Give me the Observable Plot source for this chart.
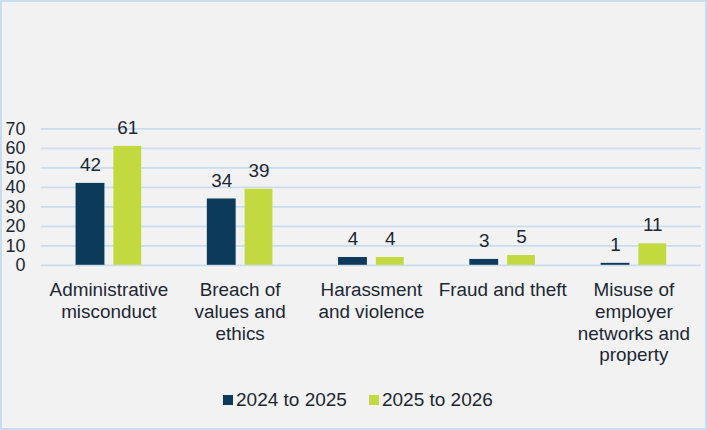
<!DOCTYPE html>
<html>
<head>
<meta charset="utf-8">
<script src="https://cdn.jsdelivr.net/npm/d3@7"></script>
<script src="https://cdn.jsdelivr.net/npm/@observablehq/plot@0.6"></script>
<style>
  body { margin: 0; background: #ffffff; }
  #chart {
    position: relative;
    width: 707px;
    height: 430px;
    box-sizing: border-box;
    background: #f2f2f2;
    border: 2px solid #c9ddee;
    font-family: "Liberation Sans", Arial, sans-serif;
    color: #1d2733;
  }
  #chart svg { position: absolute; left: -2px; top: -2px; }
  #legend {
    position: absolute;
    left: 221px;
    top: 386px;
    display: flex;
    align-items: center;
    font-size: 19px;
    line-height: 24px;
    white-space: nowrap;
  }
  #legend .item { display: flex; align-items: center; margin-right: 22px; }
  #legend .swatch { width: 10px; height: 10px; margin-right: 3px; }
</style>
</head>
<body>
<div id="chart">
  <div id="legend"></div>
</div>
<script>
// Misconduct categories and the counts for each reporting year
const categories = [
  "Administrative misconduct",
  "Breach of values and ethics",
  "Harassment and violence",
  "Fraud and theft",
  "Misuse of employer networks and property"
];
const categoryLabels = [
  "Administrative\nmisconduct",
  "Breach of\nvalues and\nethics",
  "Harassment\nand violence",
  "Fraud and theft",
  "Misuse of\nemployer\nnetworks and\nproperty"
];
const seriesNames = ["2024 to 2025", "2025 to 2026"];
const values2024to2025 = [42, 34, 4, 3, 1];
const values2025to2026 = [61, 39, 4, 5, 11];
const yTicks = [0, 10, 20, 30, 40, 50, 60, 70];

const navy = "#0b3a5b";
const lime = "#c3d940";
const textColor = "#1d2733";

const rowsA = categories.map((c, i) => ({category: c, value: values2024to2025[i]}));
const rowsB = categories.map((c, i) => ({category: c, value: values2025to2026[i]}));
const labelOf = new Map(categories.map((c, i) => [c, categoryLabels[i]]));

const plot = Plot.plot({
  width: 707,
  height: 375,
  marginTop: 129,
  marginBottom: 108.7,
  marginLeft: 41,
  marginRight: 2,
  style: {
    background: "transparent",
    fontFamily: "'Liberation Sans', Arial, sans-serif",
    fontSize: "19px",
    color: textColor,
    overflow: "visible"
  },
  x: {domain: categories, padding: 0, axis: null},
  y: {domain: [0, 70], axis: null},
  marks: [
    Plot.gridY(yTicks, {stroke: "#c9ddee", strokeOpacity: 1, strokeWidth: 1.75}),
    Plot.axisY(yTicks, {tickSize: 0, tickPadding: 16, fontSize: 18, fill: textColor, label: null}),
    Plot.axisX({
      tickSize: 0,
      tickPadding: 16,
      lineHeight: 1.14,
      fontSize: 19,
      fill: textColor,
      label: null,
      tickFormat: (d) => labelOf.get(d)
    }),
    Plot.barY(rowsA, {x: "category", y: "value", fill: navy, insetLeft: 33, insetRight: 70}),
    Plot.barY(rowsB, {x: "category", y: "value", fill: lime, insetLeft: 71, insetRight: 33}),
    Plot.text(rowsA, {x: "category", y: "value", text: (d) => String(d.value), dx: -18.5, dy: -18.5, lineAnchor: "middle", fill: textColor, fontSize: 19}),
    Plot.text(rowsB, {x: "category", y: "value", text: (d) => String(d.value), dx: 19, dy: -18.5, lineAnchor: "middle", fill: textColor, fontSize: 19})
  ]
});

const chart = document.getElementById("chart");
chart.insertBefore(plot, chart.firstChild);

// Legend beneath the plot
const legend = d3.select("#legend");
const colors = [navy, lime];
seriesNames.forEach((name, i) => {
  const item = legend.append("div").attr("class", "item");
  item.append("div").attr("class", "swatch").style("background", colors[i]);
  item.append("span").text(name);
});
</script>
</body>
</html>
